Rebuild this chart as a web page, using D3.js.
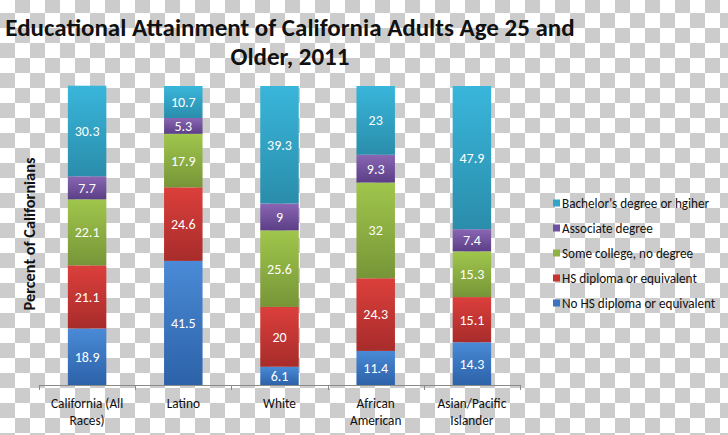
<!DOCTYPE html>
<html>
<head>
<meta charset="utf-8">
<script src="https://cdn.jsdelivr.net/npm/d3@7"></script>
<style>
  html, body { margin: 0; padding: 0; background: #fff; }
  svg { display: block; }
  text { font-family: Carlito, Lato, "Open Sans", sans-serif; }
</style>
</head>
<body>
<svg id="chart" width="728" height="435"></svg>
<script>
// ---- data ----
const categories = ["California (All Races)", "Latino", "White", "African American", "Asian/Pacific Islander"];
const categoryLines = [["California (All", "Races)"], ["Latino"], ["White"], ["African", "American"], ["Asian/Pacific", "Islander"]];
const seriesNames = ["No HS diploma or equivalent", "HS diploma or equivalent", "Some college, no degree", "Associate degree", "Bachelor's degree or hgiher"];
const noHS      = [18.9, 41.5, 6.1, 11.4, 14.3];
const hsDiploma = [21.1, 24.6, 20, 24.3, 15.1];
const someCol   = [22.1, 17.9, 25.6, 32, 15.3];
const associate = [7.7, 5.3, 9, 9.3, 7.4];
const bachelor  = [30.3, 10.7, 39.3, 23, 47.9];
const seriesValues = [noHS, hsDiploma, someCol, associate, bachelor];
const titleLines = ["Educational Attainment of California Adults Age 25 and", "Older, 2011"];
const yTitle = "Percent of Californians";

// colors: [top, bottom]
const colors = [
  ["#4a8ad6", "#2c62a8"],
  ["#dc3f3b", "#a72c2b"],
  ["#a0c64c", "#779538"],
  ["#8a66b4", "#5b3f86"],
  ["#39b6db", "#2a8dab"]
];
const legendColors = ["#3a73c0", "#c8332f", "#8db443", "#7050a0", "#31a5c8"];

const svg = d3.select("#chart");
const defs = svg.append("defs");

// checkerboard background (transparency grid of the reference)
const pat = defs.append("pattern").attr("id", "checker")
  .attr("patternUnits", "userSpaceOnUse").attr("width", 30).attr("height", 30)
  .attr("patternTransform", "translate(0,-2)");
pat.append("rect").attr("width", 30).attr("height", 30).attr("fill", "#ffffff");
pat.append("rect").attr("x", 15).attr("y", 0).attr("width", 15).attr("height", 15).attr("fill", "#cccccc");
pat.append("rect").attr("x", 0).attr("y", 15).attr("width", 15).attr("height", 15).attr("fill", "#cccccc");
svg.append("rect").attr("width", 728).attr("height", 435).attr("fill", "url(#checker)");

colors.forEach((c, i) => {
  const g = defs.append("linearGradient").attr("id", "grad" + i)
    .attr("x1", 0).attr("y1", 0).attr("x2", 0).attr("y2", 1);
  g.append("stop").attr("offset", "0%").attr("stop-color", c[0]);
  g.append("stop").attr("offset", "100%").attr("stop-color", c[1]);
});

// scales
const x = d3.scaleBand().domain(categories).range([39, 520]).paddingInner(0.6).paddingOuter(0.3);
const y = d3.scaleLinear().domain([0, 100]).range([385, 86]);

// stacked data
const rows = categories.map((c, i) => {
  const o = { cat: c };
  seriesNames.forEach((s, j) => o[s] = seriesValues[j][i]);
  return o;
});
const stacked = d3.stack().keys(seriesNames)(rows);

const layers = svg.append("g").selectAll("g").data(stacked).join("g")
  .attr("fill", (d, i) => `url(#grad${i})`);
layers.selectAll("rect").data(d => d).join("rect")
  .attr("x", d => x(d.data.cat))
  .attr("width", x.bandwidth())
  .attr("y", d => y(d[1]))
  .attr("height", d => y(d[0]) - y(d[1]));

// value labels
const labG = svg.append("g");
stacked.forEach((layer, i) => {
  layer.forEach(d => {
    labG.append("text")
      .attr("x", x(d.data.cat) + x.bandwidth() / 2)
      .attr("y", (y(d[0]) + y(d[1])) / 2)
      .attr("dy", "0.35em")
      .attr("text-anchor", "middle")
      .attr("fill", "#ffffff")
      .attr("font-size", 14)
      .text(d.data[layer.key]);
  });
});

// x axis
const axisG = svg.append("g").attr("transform", "translate(0,385)");
const tickPos = categories.map(c => x(c) - x.step() * 0.3).concat([x.range()[1]]);
axisG.append("line").attr("x1", x.range()[0]).attr("x2", x.range()[1])
  .attr("y1", 0.5).attr("y2", 0.5).attr("stroke", "#8a8a8a").attr("stroke-width", 1);
axisG.selectAll("line.tick").data(tickPos).join("line").attr("class", "tick")
  .attr("x1", d => Math.round(d) + 0.5).attr("x2", d => Math.round(d) + 0.5)
  .attr("y1", 0).attr("y2", 5).attr("stroke", "#8a8a8a");
categories.forEach((c, i) => {
  const t = axisG.append("text")
    .attr("x", x(c) + x.bandwidth() / 2)
    .attr("y", 23)
    .attr("text-anchor", "middle")
    .attr("font-size", 13.3)
    .attr("fill", "#111");
  categoryLines[i].forEach((ln, k) => {
    t.append("tspan").attr("x", x(c) + x.bandwidth() / 2).attr("dy", k === 0 ? 0 : 17).text(ln);
  });
});

// y title
svg.append("text")
  .attr("transform", "translate(35,234) rotate(-90)")
  .attr("text-anchor", "middle")
  .attr("font-size", 16.3)
  .attr("font-weight", "bold")
  .attr("fill", "#111")
  .text(yTitle);

// title
const tg = svg.append("g");
titleLines.forEach((ln, i) => {
  tg.append("text")
    .attr("x", 290)
    .attr("y", 36 + i * 29)
    .attr("text-anchor", "middle")
    .attr("font-size", 25)
    .attr("font-weight", "bold")
    .attr("fill", "#111")
    .text(ln);
});

// legend (reverse order, top = Bachelor's)
const legend = svg.append("g");
const legOrder = d3.range(seriesNames.length).reverse();
legOrder.forEach((si, k) => {
  const cy = 203 + k * 25;
  legend.append("rect").attr("x", 553).attr("y", cy - 3.5).attr("width", 7).attr("height", 7)
    .attr("fill", legendColors[si]);
  legend.append("text").attr("x", 562).attr("y", cy).attr("dy", "0.35em")
    .attr("font-size", 13.2).attr("fill", "#111").text(seriesNames[si]);
});
</script>
</body>
</html>
